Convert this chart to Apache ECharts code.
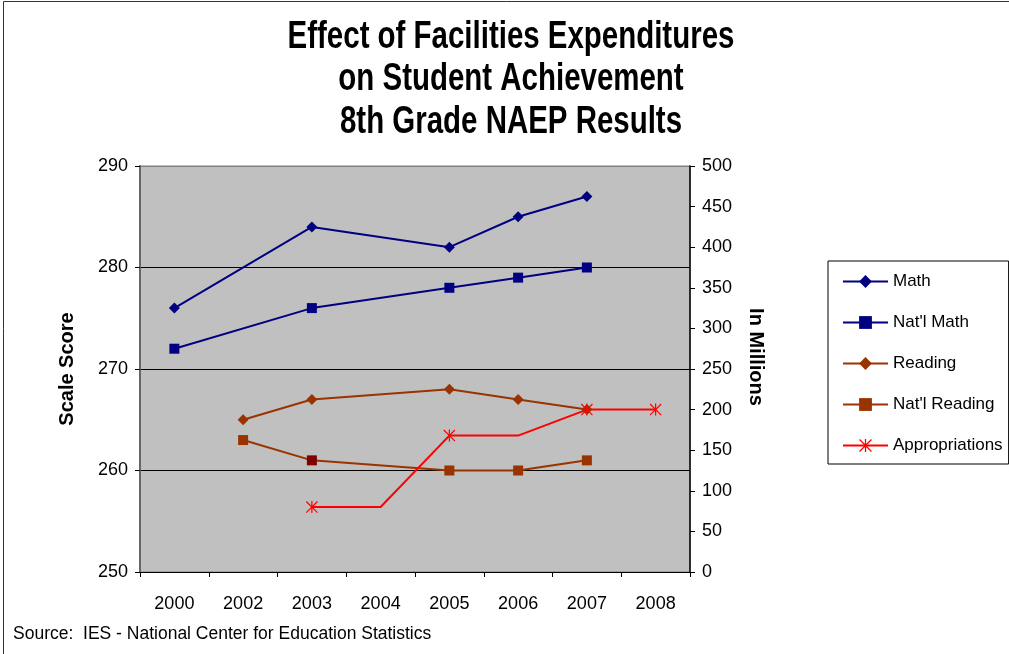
<!DOCTYPE html>
<html lang="en">
<head>
<meta charset="UTF-8">
<title>Effect of Facilities Expenditures on Student Achievement</title>
<style>
  html, body { margin: 0; padding: 0; background: #fff; }
  #main { width: 1009px; height: 654px; }
</style>
</head>
<body>
<div id="main"></div>
<script src="https://cdn.jsdelivr.net/npm/echarts@6/dist/echarts.min.js"></script>
<script type="text/javascript">
  // data
  var years = ['2000', '2002', '2003', '2004', '2005', '2006', '2007', '2008'];
  var math = [276, null, 284, null, 282, 285, 287, null];
  var natMath = [272, null, 276, null, 278, 279, 280, null];
  var reading = [null, 265, 267, null, 268, 267, 266, null];
  var natReading = [null, 263, 261, null, 260, 260, 261, null];
  var appropriations = [null, null, 80, 80, 168, 168, 200, 200];
  var scoreTicks = [250, 260, 270, 280, 290];
  var millionTicks = [0, 50, 100, 150, 200, 250, 300, 350, 400, 450, 500];

  var FONT = "'Liberation Sans', Arial, sans-serif";
  var NAVY = '#000080', BROWN = '#993300', RED = '#FF0000';
  // asterisk marker, like excel's star
  var STAR = 'path://M4.5 0L5.5 0L5.5 10L4.5 10Z M0.7 0L10 9.3L9.3 10L0 0.7Z M9.3 0L10 0.7L0.7 10L0 9.3Z';

  var myChart = echarts.init(document.getElementById('main'));

  function lineSeries(name, data, color, symbol, size, yIndex) {
    return {
      name: name,
      type: 'line',
      yAxisIndex: yIndex || 0,
      data: data,
      connectNulls: true,
      symbol: symbol,
      symbolSize: size,
      showAllSymbol: true,
      lineStyle: { color: color, width: 2 },
      itemStyle: { color: color },
      emphasis: { disabled: true }
    };
  }

  // the 2003 national reading point is drawn darker
  var natReadingData = natReading.map(function (v, i) {
    return years[i] === '2003' ? { value: v, itemStyle: { color: '#800000' } } : v;
  });
  // excel shows no marker for the in-between appropriation years
  var apprData = appropriations.map(function (v, i) {
    return (years[i] === '2004' || years[i] === '2006') ? { value: v, symbol: 'none' } : v;
  });

  myChart.setOption({
    animation: false,
    backgroundColor: '#fff',
    textStyle: { fontFamily: FONT },
    graphic: [{
      type: 'rect',
      z: -10,
      shape: { x: 3.5, y: 1.5, width: 1020, height: 670 },
      style: { fill: 'none', stroke: '#333', lineWidth: 1 }
    }, {
      type: 'text',
      x: 511,
      y: 16,
      scaleX: 0.775,
      style: {
        text: 'Effect of Facilities Expenditures\non Student Achievement\n8th Grade NAEP Results',
        x: 0,
        y: 0,
        align: 'center',
        verticalAlign: 'top',
        font: 'bold 38px ' + FONT,
        lineHeight: 42.5,
        fill: '#000'
      }
    }, {
      type: 'text',
      x: 13,
      y: 634,
      style: {
        text: 'Source:  IES - National Center for Education Statistics',
        verticalAlign: 'middle',
        font: '17.5px ' + FONT,
        fill: '#000'
      }
    }],
    legend: {
      orient: 'vertical',
      left: 828,
      top: 261,
      padding: [12, 6, 10, 14],
      itemGap: 24,
      itemWidth: 45,
      itemHeight: 16,
      backgroundColor: '#fff',
      borderColor: '#000',
      borderWidth: 1,
      borderRadius: 0,
      textStyle: { fontSize: 17, lineHeight: 16, color: '#000', fontFamily: FONT },
      data: ['Math', "Nat'l Math", 'Reading', "Nat'l Reading", 'Appropriations']
    },
    grid: {
      left: 140,
      top: 166,
      right: 319,
      bottom: 82,
      show: true,
      backgroundColor: '#C0C0C0',
      borderColor: '#808080',
      borderWidth: 1
    },
    xAxis: {
      type: 'category',
      data: years,
      boundaryGap: true,
      axisLine: { lineStyle: { color: '#000', width: 1 } },
      axisTick: { show: true, length: 5, lineStyle: { color: '#000' } },
      axisLabel: { color: '#000', fontSize: 18, margin: 23, fontFamily: FONT },
      splitLine: { show: false }
    },
    yAxis: [{
      type: 'value',
      min: scoreTicks[0],
      max: scoreTicks[scoreTicks.length - 1],
      interval: 10,
      name: 'Scale Score',
      nameLocation: 'middle',
      nameGap: 63,
      nameTextStyle: { fontSize: 20, fontWeight: 'bold', color: '#000', fontFamily: FONT },
      axisLine: { show: true, lineStyle: { color: '#666', width: 2 } },
      axisTick: { show: true, length: 5, lineStyle: { color: '#000' } },
      axisLabel: { color: '#000', fontSize: 18, margin: 12, fontFamily: FONT },
      splitLine: { show: true, lineStyle: { color: ['#000', '#000', '#000', '#000', '#808080'], width: 1 } }
    }, {
      type: 'value',
      position: 'right',
      min: millionTicks[0],
      max: millionTicks[millionTicks.length - 1],
      interval: 50,
      name: 'In Millions',
      nameLocation: 'middle',
      nameRotate: -90,
      nameGap: 56,
      nameTextStyle: { fontSize: 20, fontWeight: 'bold', color: '#000', fontFamily: FONT, padding: [0, 24, 0, 0] },
      axisLine: { show: true, lineStyle: { color: '#000', width: 1.5 } },
      axisTick: { show: true, length: 5, lineStyle: { color: '#000' } },
      axisLabel: { color: '#000', fontSize: 18, margin: 12, fontFamily: FONT },
      splitLine: { show: false }
    }],
    series: [
      lineSeries('Math', math, NAVY, 'diamond', 11),
      lineSeries("Nat'l Math", natMath, NAVY, 'rect', 10),
      lineSeries('Reading', reading, BROWN, 'diamond', 11),
      lineSeries("Nat'l Reading", natReadingData, BROWN, 'rect', 10),
      lineSeries('Appropriations', apprData, RED, STAR, 12, 1)
    ]
  });
</script>
</body>
</html>
